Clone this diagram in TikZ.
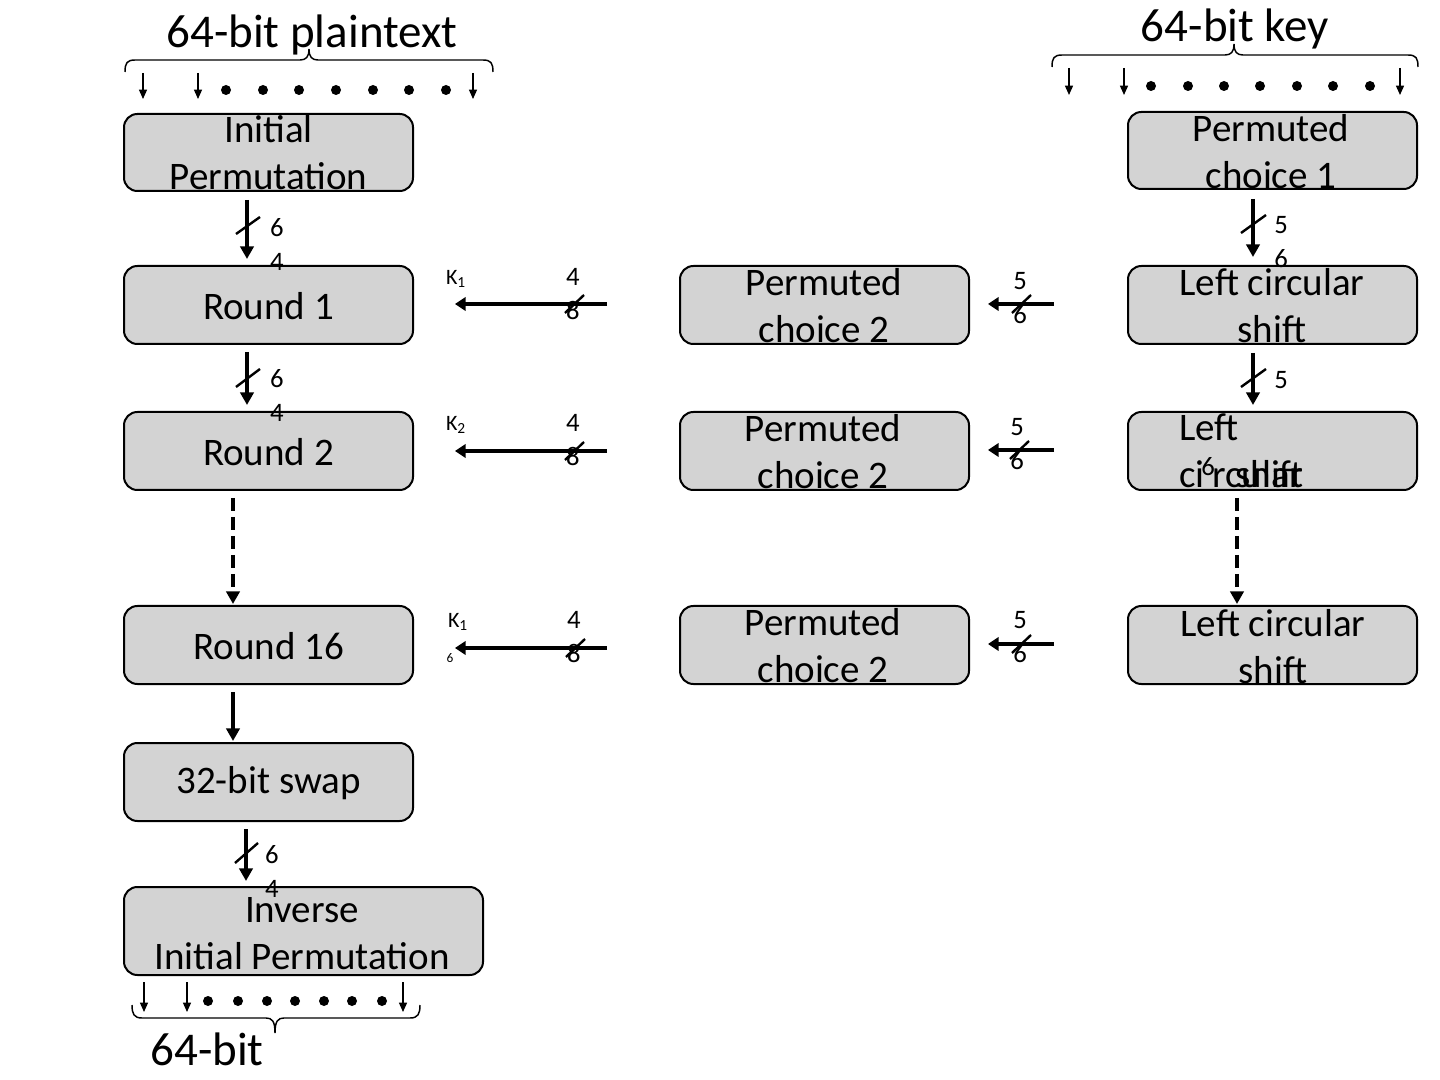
\documentclass[tikz,border=0pt]{standalone}
\usepackage{fontspec}
\setmainfont{Carlito}
\usetikzlibrary{arrows.meta,calc}
\definecolor{boxgray}{HTML}{D3D3D3}
\begin{document}
\begin{tikzpicture}[x=0.75pt,y=-0.75pt,
  box/.style={draw=black,line width=1.5pt,fill=boxgray,rounded corners=10pt,
    minimum width=216.75pt,minimum height=58.5pt,inner sep=0pt},
  boxtext/.style={align=center,font=\fontsize{29.25pt}{35.25pt}\selectfont,inner sep=0pt},
  title/.style={font=\fontsize{35.25pt}{42pt}\selectfont,inner sep=0pt},
  bitlbl/.style={align=center,font=\fontsize{20pt}{25.5pt}\selectfont,inner sep=0pt},
  klbl/.style={font=\fontsize{16.5pt}{20pt}\selectfont,inner sep=0pt},
  varr/.style={line width=2.5pt,-{Triangle[length=9.5pt,width=10pt]}},
  harr/.style={line width=3pt,-{Triangle[length=8pt,width=10pt]}},
  smarr/.style={line width=1pt,-{Triangle[length=7pt,width=6pt]}},
  slashln/.style={line width=1.8pt},
  bracel/.style={line width=1.1pt},
  dotf/.style={fill=black}
]
\useasboundingbox (0,0) rectangle (1440,1080);

% ---------- boxes ----------
\node[box,minimum height=57.75pt] (ip) at (268.5,152.5) {};
\node[box] (r1) at (268.5,305) {};
\node[box] (r2) at (268.5,451) {};
\node[box] (r16) at (268.5,645) {};
\node[box] (swap) at (268.5,782) {};
\node[box,minimum width=269.25pt,minimum height=66pt] (iip) at (303.5,931) {};

\node[box] (pca) at (824.5,305) {};
\node[box] (pcb) at (824.5,451) {};
\node[box] (pcc) at (824.5,645) {};

\node[box,minimum height=57.75pt] (pc1) at (1272.5,150.5) {};
\node[box] (lcsa) at (1272.5,305) {};
\node[box] (lcsb) at (1272.5,451) {};
\node[box] (lcsc) at (1272.5,645) {};

% ---------- box texts ----------
\node[boxtext] (tip) at (268.5,153) {Initial\\Permutation};
\node[boxtext] (tr1) at (268.5,306) {Round 1};
\node[boxtext] (tr2) at (268.5,452) {Round 2};
\node[boxtext] (tr16) at (268.5,646) {Round 16};
\node[boxtext] (tswap) at (268.5,783) {32-bit swap};
\node[boxtext] (tiip) at (302,934) {Inverse\\Initial Permutation};

\node[boxtext] (tpca) at (824,306) {Permuted\\choice 2};
\node[boxtext] (tpcb) at (823,452) {Permuted\\choice 2};
\node[boxtext] (tpcc) at (823,646) {Permuted\\choice 2};

\node[boxtext] (tpc1) at (1271,152) {Permuted\\choice 1};
\node[boxtext] (tlcsa) at (1272,306) {Left circular\\shift};
\node[boxtext,anchor=base west] (tleft) at (1179,441) {Left};
\node[boxtext,anchor=base west] (tci) at (1179,488) {ci};
\node[boxtext,anchor=base west] (trc) at (1212,488) {rcular};
\node[boxtext,anchor=base west] (tsh) at (1235,488) {shift};
\node[bitlbl] (lsix) at (1208,467) {6};
\node[boxtext] (tlcsc) at (1273,647) {Left circular\\shift};

% ---------- titles and braces ----------
\node[title,anchor=base] (tpl) at (312,48) {64-bit plaintext};
\node[title,anchor=base] (tkey) at (1235,42) {64-bit key};
\node[title,anchor=base] (tout) at (207,1065) {64-bit};

\draw[bracel] (125,72) .. controls (125,63) and (127,60) .. (135,60) -- (300,60)
  .. controls (306,60) and (309,57) .. (309,49)
  .. controls (309,57) and (312,60) .. (318,60) -- (483,60)
  .. controls (491,60) and (493,63) .. (493,72);
\draw[bracel] (1052,67) .. controls (1052,58) and (1054,55) .. (1062,55) -- (1225,55)
  .. controls (1231,55) and (1234,52) .. (1234,44)
  .. controls (1234,52) and (1237,55) .. (1243,55) -- (1408,55)
  .. controls (1416,55) and (1418,58) .. (1418,67);
\draw[bracel] (132,1005) .. controls (132,1014) and (134,1018) .. (142,1018) -- (266,1018)
  .. controls (272,1018) and (275,1021) .. (275,1033)
  .. controls (275,1021) and (278,1018) .. (284,1018) -- (410,1018)
  .. controls (418,1018) and (420,1014) .. (420,1005);

% small arrows and dots
\foreach \x in {143,198,473} \draw[smarr] (\x,73) -- (\x,99);
\foreach \x in {226,263,299,336,373,409,446} \fill[dotf] (\x,90) circle (3.75pt);
\foreach \x in {1069,1124,1400} \draw[smarr] (\x,68) -- (\x,95);
\foreach \x in {1151,1188,1224,1260,1297,1333,1370} \fill[dotf] (\x,86) circle (3.75pt);
\foreach \x in {144,187,403} \draw[smarr] (\x,982) -- (\x,1012);
\foreach \x in {208,238,267,295,324,352,382} \fill[dotf] (\x,1001) circle (3.75pt);

% ---------- vertical connectors ----------
\coordinate (cA) at (247,0);
\coordinate (cB) at (233,0);
\coordinate (cC) at (246,0);
\coordinate (cD) at (1253,0);
\coordinate (cE) at (1237,0);
\draw[varr,shorten <=6pt,shorten >=4.5pt] (ip.south -| cA) -- (r1.north -| cA);
\draw[varr,shorten <=5.25pt,shorten >=4.5pt] (r1.south -| cA) -- (r2.north -| cA);
\draw[varr,dash pattern=on 9.75pt off 4.5pt,shorten <=5.25pt,shorten >=0.75pt] (r2.south -| cB) -- (r16.north -| cB);
\draw[varr,shorten <=5.25pt,shorten >=0.75pt] (r16.south -| cB) -- (swap.north -| cB);
\draw[varr,shorten <=5.25pt,shorten >=3.75pt] (swap.south -| cC) -- (iip.north -| cC);
\draw[varr,shorten <=6.75pt,shorten >=6pt] (pc1.south -| cD) -- (lcsa.north -| cD);
\draw[varr,shorten <=6pt,shorten >=4.5pt] (lcsa.south -| cD) -- (lcsb.north -| cD);
\draw[varr,dash pattern=on 9.75pt off 4.5pt,shorten <=5.25pt,shorten >=0.75pt] (lcsb.south -| cE) -- (lcsc.north -| cE);

% slashes on vertical connectors
\draw[slashln] (236,234) -- (260,217);
\draw[slashln] (236,387) -- (260,369);
\draw[slashln] (235,863) -- (258,843);
\draw[slashln] (1241,233) -- (1266,215);
\draw[slashln] (1241,387) -- (1266,369);

% ---------- horizontal connectors ----------
\coordinate (ka1) at (1054,304); \coordinate (ka2) at (988,304);
\coordinate (kb1) at (1054,450); \coordinate (kb2) at (988,450);
\coordinate (kc1) at (1054,644); \coordinate (kc2) at (988,644);
\coordinate (sa1) at (607,304); \coordinate (sa2) at (455,304);
\coordinate (sb1) at (607,451); \coordinate (sb2) at (455,451);
\coordinate (sc1) at (607,648); \coordinate (sc2) at (455,648);
\draw[harr] (ka1) -- (ka2);
\draw[harr] (kb1) -- (kb2);
\draw[harr] (kc1) -- (kc2);
\draw[harr] (sa1) -- (sa2);
\draw[harr] (sb1) -- (sb2);
\draw[harr] (sc1) -- (sc2);

\draw[slashln] (1012,313) -- (1031,295);
\draw[slashln] (1010,459) -- (1029,441);
\draw[slashln] (1012,653) -- (1031,635);
\draw[slashln] (565,313) -- (584,295);
\draw[slashln] (565,460) -- (584,442);
\draw[slashln] (566,657) -- (585,639);

% ---------- bit labels ----------
\node[bitlbl] (l1) at (277,244.5) {6\\4};
\node[bitlbl] (l2) at (277,395) {6\\4};
\node[bitlbl] (l3) at (272,871) {6\\4};
\node[bitlbl] (l4) at (1281,242.5) {5\\6};
\node[bitlbl] (l5) at (1281,380) {5};
\node[bitlbl] (l6) at (1020,298) {5\\6};
\node[bitlbl] (l7) at (1017,444) {5\\6};
\node[bitlbl] (l8) at (1020,637) {5\\6};
\node[bitlbl] (l9) at (573,294) {4\\8};
\node[bitlbl] (l10) at (573,440) {4\\8};
\node[bitlbl] (l11) at (574,637) {4\\8};

\node[klbl] (k1) at (456,279) {K\textsubscript{1}};
\node[klbl] (k2) at (456,425) {K\textsubscript{2}};
\node[klbl] (k3) at (458,622) {K\textsubscript{1}};
\node[font=\fontsize{10pt}{12pt}\selectfont,inner sep=0pt] (k3b) at (450,658) {6};
\end{tikzpicture}
\end{document}
